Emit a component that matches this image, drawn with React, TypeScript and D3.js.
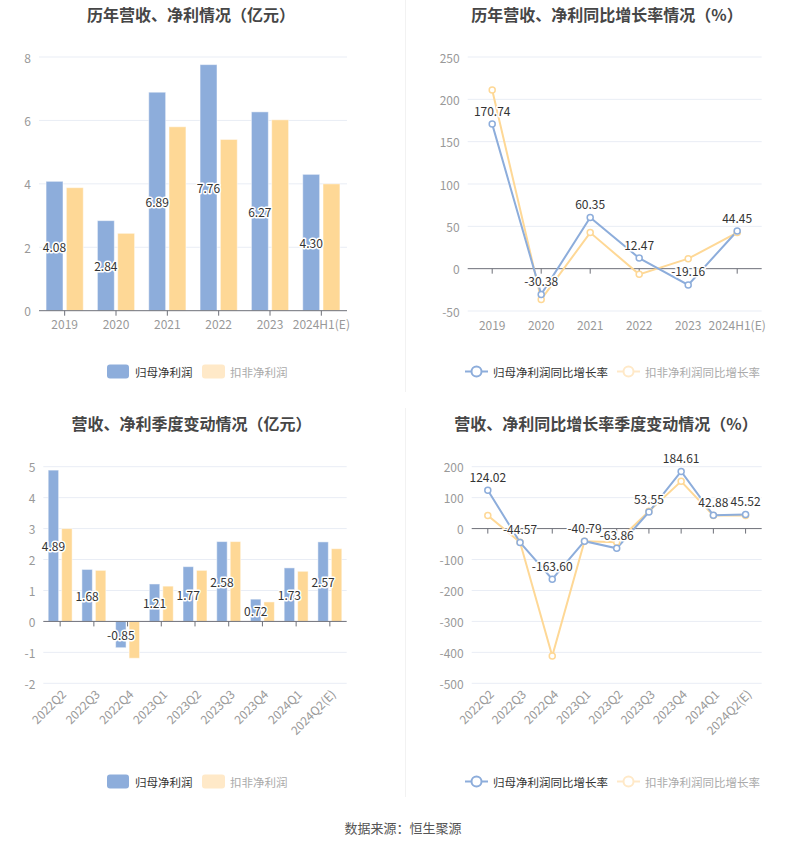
import React from "react";
import * as d3 from "d3";

const years = ["2019", "2020", "2021", "2022", "2023", "2024H1(E)"];
const yearNetProfit = [4.08, 2.84, 6.89, 7.76, 6.27, 4.3];
const yearDeductedProfit = [3.88, 2.44, 5.8, 5.4, 6.02, 4.0];
const yearNetGrowth = [170.74, -30.38, 60.35, 12.47, -19.16, 44.45];
const yearDeductedGrowth = [211, -36.3, 42.6, -6.7, 11.8, 42.6];

const quarters = ["2022Q2", "2022Q3", "2022Q4", "2023Q1", "2023Q2", "2023Q3", "2023Q4", "2024Q1", "2024Q2(E)"];
const qNetProfit = [4.89, 1.68, -0.85, 1.21, 1.77, 2.58, 0.72, 1.73, 2.57];
const qDeductedProfit = [3.0, 1.65, -1.19, 1.14, 1.65, 2.58, 0.63, 1.62, 2.35];
const qNetGrowth = [124.02, -44.57, -163.6, -40.79, -63.86, 53.55, 184.61, 42.88, 45.52];
const qDeductedGrowth = [42, -44, -412, -41, -44, 56, 152.6, 42, 42];

const ticks1 = [0, 2, 4, 6, 8];
const ticks2 = [-50, 0, 50, 100, 150, 200, 250];
const ticks3 = [-2, -1, 0, 1, 2, 3, 4, 5];
const ticks4 = [-500, -400, -300, -200, -100, 0, 100, 200];

const titles = [
  "历年营收、净利情况（亿元）",
  "历年营收、净利同比增长率情况（%）",
  "营收、净利季度变动情况（亿元）",
  "营收、净利同比增长率季度变动情况（%）",
];
const barLegend = ["归母净利润", "扣非净利润"];
const lineLegend = ["归母净利润同比增长率", "扣非净利润同比增长率"];
const source = "数据来源：恒生聚源";

const FONT = "'Noto Sans CJK SC', 'Noto Sans', sans-serif";
const BLUE = "#8DADDB";
const YELLOW = "#FED896";
const YELLOW_LIGHT = "#FFE9C8";
const GRID = "#E9EDF5";
const AXIS = "#6E7079";
const LABEL = "#999";
const LEG_FS = 11.5;

type BarProps = {
  cats: string[];
  a: number[];
  b: number[];
  ticks: number[];
  domain: [number, number];
  x0: number;
  x1: number;
  yTop: number;
  yBot: number;
  barFrac: number;
  gapFrac: number;
  rotate: boolean;
  title: string;
  titleX: number;
  titleY: number;
  legendY: number;
};

function BarPanel(p: BarProps) {
  const x = d3.scaleBand<string>().domain(p.cats).range([p.x0, p.x1]);
  const y = d3.scaleLinear().domain(p.domain).range([p.yBot, p.yTop]);
  const bw = x.bandwidth();
  const w = bw * p.barFrac;
  const gap = bw * p.gapFrac;
  const off = (bw - 2 * w - gap) / 2;
  const zero = y(0);
  return (
    <g>
      <text x={p.titleX} y={p.titleY} textAnchor="middle" fontSize={16} fontWeight="bold" fill="#464646" dominantBaseline="central">{p.title}</text>
      {p.ticks.map((t) => (
        <g key={t}>
          {t !== 0 && <line x1={p.x0} x2={p.x1} y1={y(t)} y2={y(t)} stroke={GRID} />}
          <text x={p.x0 - 8} y={y(t)} textAnchor="end" dominantBaseline="central" fontSize={12} fill={LABEL}>{t}</text>
        </g>
      ))}
      {p.cats.map((c, i) => {
        const bx = x(c)!;
        const va = p.a[i];
        const vb = p.b[i];
        return (
          <g key={c}>
            <rect x={bx + off} width={w} y={Math.min(y(va), zero)} height={Math.abs(y(va) - zero)} fill={BLUE} stroke="#fff" strokeOpacity={0.5} strokeWidth={1} />
            <rect x={bx + off + w + gap} width={w} y={Math.min(y(vb), zero)} height={Math.abs(y(vb) - zero)} fill={YELLOW} stroke="#fff" strokeOpacity={0.5} strokeWidth={1} />
          </g>
        );
      })}
      <line x1={p.x0} x2={p.x1} y1={zero} y2={zero} stroke={AXIS} />
      {p.cats.map((c) => {
        const cx = x(c)! + bw / 2;
        return <line key={c} x1={cx} x2={cx} y1={zero} y2={zero + 5} stroke={AXIS} />;
      })}
      {p.cats.map((c) => {
        const cx = x(c)! + bw / 2;
        return p.rotate ? (
          <text key={c} transform={`translate(${cx + 3},${p.yBot + 8}) rotate(-45)`} textAnchor="end" dominantBaseline="central" fontSize={12} fill={LABEL}>{c}</text>
        ) : (
          <text key={c} x={cx} y={p.yBot + 13} textAnchor="middle" dominantBaseline="central" fontSize={12} fill={LABEL}>{c}</text>
        );
      })}
      {p.cats.map((c, i) => {
        const cx = x(c)! + off + w / 2;
        const va = p.a[i];
        const my = (y(va) + zero) / 2;
        return (
          <text key={c} x={cx} y={my} textAnchor="middle" dominantBaseline="central" fontSize={12} fill="#333" stroke="#fff" strokeWidth={3} paintOrder="stroke" strokeLinejoin="round">{va.toFixed(2)}</text>
        );
      })}
      <rect x={107} y={p.legendY - 7} width={22} height={14} rx={3} fill={BLUE} />
      <text x={135} y={p.legendY} dominantBaseline="central" fontSize={LEG_FS} fill="#333">{barLegend[0]}</text>
      <rect x={202} y={p.legendY - 7} width={23} height={14} rx={3} fill={YELLOW_LIGHT} />
      <text x={230} y={p.legendY} dominantBaseline="central" fontSize={LEG_FS} fill="#aaa">{barLegend[1]}</text>
    </g>
  );
}

type LineProps = {
  cats: string[];
  a: number[];
  b: number[];
  ticks: number[];
  domain: [number, number];
  x0: number;
  x1: number;
  yTop: number;
  yBot: number;
  rotate: boolean;
  title: string;
  titleX: number;
  titleY: number;
  legendY: number;
};

function LinePanel(p: LineProps) {
  const x = d3.scalePoint<string>().domain(p.cats).range([p.x0, p.x1]).padding(0.5);
  const y = d3.scaleLinear().domain(p.domain).range([p.yBot, p.yTop]);
  const zero = y(0);
  const line = d3
    .line<number>()
    .x((_, i) => x(p.cats[i])!)
    .y((v) => y(v));
  return (
    <g>
      <text x={p.titleX} y={p.titleY} textAnchor="middle" fontSize={16} fontWeight="bold" fill="#464646" dominantBaseline="central">{p.title}</text>
      {p.ticks.map((t) => (
        <g key={t}>
          {t !== 0 && <line x1={p.x0} x2={p.x1} y1={y(t)} y2={y(t)} stroke={GRID} />}
          <text x={p.x0 - 8} y={y(t)} textAnchor="end" dominantBaseline="central" fontSize={12} fill={LABEL}>{t}</text>
        </g>
      ))}
      <line x1={p.x0} x2={p.x1} y1={zero} y2={zero} stroke={AXIS} />
      {p.cats.map((c) => {
        const cx = x(c)!;
        return <line key={c} x1={cx} x2={cx} y1={zero} y2={zero + 5} stroke={AXIS} />;
      })}
      {p.cats.map((c) => {
        const cx = x(c)!;
        return p.rotate ? (
          <text key={c} transform={`translate(${cx + 3},${p.yBot + 8}) rotate(-45)`} textAnchor="end" dominantBaseline="central" fontSize={12} fill={LABEL}>{c}</text>
        ) : (
          <text key={c} x={cx} y={p.yBot + 13} textAnchor="middle" dominantBaseline="central" fontSize={12} fill={LABEL}>{c}</text>
        );
      })}
      <path d={line(p.b) || ""} fill="none" stroke={YELLOW} strokeWidth={2} />
      <path d={line(p.a) || ""} fill="none" stroke={BLUE} strokeWidth={2} />
      {p.b.map((v, i) => (
        <circle key={"b" + i} cx={x(p.cats[i])!} cy={y(v)} r={3} fill="#fff" stroke={YELLOW} strokeWidth={1.5} />
      ))}
      {p.a.map((v, i) => (
        <circle key={"a" + i} cx={x(p.cats[i])!} cy={y(v)} r={3} fill="#fff" stroke={BLUE} strokeWidth={1.5} />
      ))}
      {p.a.map((v, i) => (
        <text key={"l" + i} x={x(p.cats[i])!} y={y(v) - 14} textAnchor="middle" dominantBaseline="central" fontSize={12} fill="#333" stroke="#fff" strokeWidth={3} paintOrder="stroke" strokeLinejoin="round">{v.toFixed(2)}</text>
      ))}
      <line x1={465} x2={488} y1={p.legendY} y2={p.legendY} stroke={BLUE} strokeWidth={2} />
      <circle cx={476.5} cy={p.legendY} r={5} fill="#fff" stroke={BLUE} strokeWidth={2} />
      <text x={493} y={p.legendY} dominantBaseline="central" fontSize={LEG_FS} fill="#333">{lineLegend[0]}</text>
      <line x1={617} x2={640} y1={p.legendY} y2={p.legendY} stroke={YELLOW_LIGHT} strokeWidth={2} />
      <circle cx={628.5} cy={p.legendY} r={5} fill="#fff" stroke={YELLOW_LIGHT} strokeWidth={2} />
      <text x={645} y={p.legendY} dominantBaseline="central" fontSize={LEG_FS} fill="#aaa">{lineLegend[1]}</text>
    </g>
  );
}

export default function App() {
  return (
    <svg width={807} height={846} style={{ position: "absolute", left: 0, top: 0, background: "#fff" }} fontFamily={FONT}>
      <rect x={0} y={0} width={807} height={846} fill="#fff" />
      <line x1={405.5} x2={405.5} y1={0} y2={392} stroke="#F2F2F2" />
      <line x1={405.5} x2={405.5} y1={408} y2={797} stroke="#F2F2F2" />
      <BarPanel cats={years} a={yearNetProfit} b={yearDeductedProfit} ticks={ticks1} domain={[0, 8]} x0={39} x1={347} yTop={57} yBot={310.7} barFrac={0.33} gapFrac={0.065} rotate={false} title={titles[0]} titleX={191} titleY={14} legendY={371.5} />
      <LinePanel cats={years} a={yearNetGrowth} b={yearDeductedGrowth} ticks={ticks2} domain={[-50, 250]} x0={467.7} x1={761.7} yTop={57} yBot={311} rotate={false} title={titles[1]} titleX={607} titleY={14} legendY={371.5} />
      <BarPanel cats={quarters} a={qNetProfit} b={qDeductedProfit} ticks={ticks3} domain={[-2, 5]} x0={43.3} x1={346.7} yTop={466.7} yBot={683.3} barFrac={0.31} gapFrac={0.09} rotate={true} title={titles[2]} titleX={191.5} titleY={423} legendY={781.5} />
      <LinePanel cats={quarters} a={qNetGrowth} b={qDeductedGrowth} ticks={ticks4} domain={[-500, 200]} x0={471.7} x1={761.7} yTop={466.7} yBot={683.3} rotate={true} title={titles[3]} titleX={606} titleY={423} legendY={781.5} />
      <text x={403} y={827} textAnchor="middle" dominantBaseline="central" fontSize={13} fill="#555">{source}</text>
    </svg>
  );
}
